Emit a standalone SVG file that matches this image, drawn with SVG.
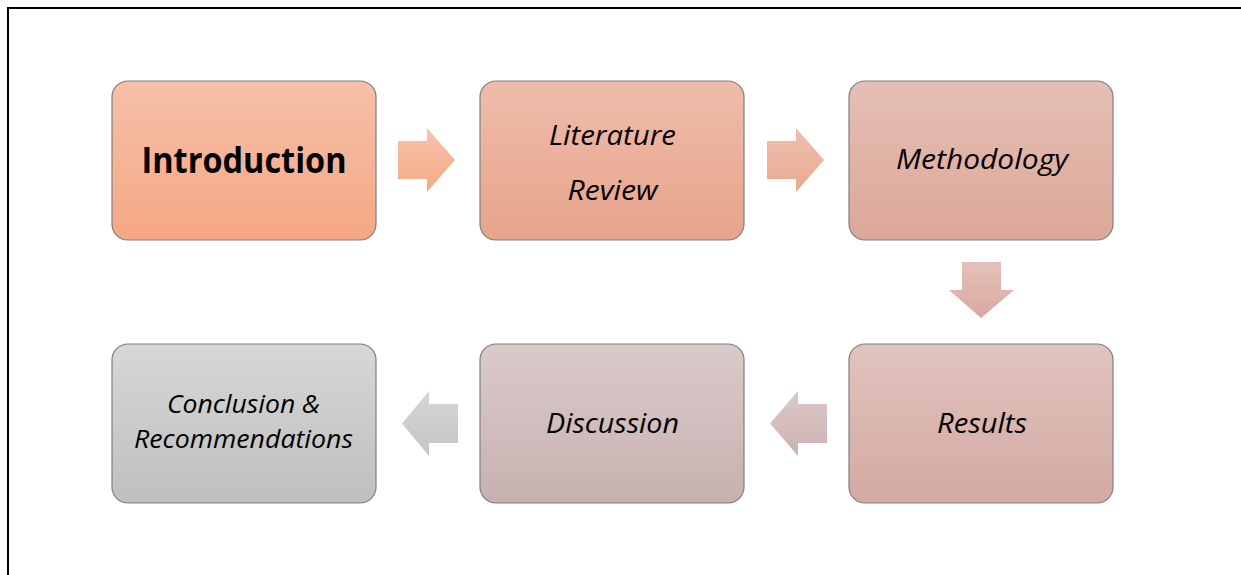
<svg xmlns="http://www.w3.org/2000/svg" width="1241" height="575" viewBox="0 0 1241 575">
<style>
.box{stroke:#7f7f7f;stroke-width:1.2}
.t{font-family:"Open Sans","Liberation Sans",sans-serif;font-style:italic;font-size:28px;fill:#000;text-anchor:middle}
.s{font-size:26px}
.b{font-family:"Open Sans","Liberation Sans",sans-serif;font-weight:bold;font-size:35px;fill:#000;text-anchor:middle}
</style>
<defs>
<linearGradient id="g1" x1="0" y1="0" x2="0" y2="1"><stop offset="0" stop-color="#F6C0A8"/><stop offset="1" stop-color="#F5A784"/></linearGradient>
<linearGradient id="g2" x1="0" y1="0" x2="0" y2="1"><stop offset="0" stop-color="#EEBDAB"/><stop offset="1" stop-color="#E8A38A"/></linearGradient>
<linearGradient id="g3" x1="0" y1="0" x2="0" y2="1"><stop offset="0" stop-color="#E5BFB5"/><stop offset="1" stop-color="#DCA797"/></linearGradient>
<linearGradient id="g4" x1="0" y1="0" x2="0" y2="1"><stop offset="0" stop-color="#E1C3BE"/><stop offset="1" stop-color="#D3A9A2"/></linearGradient>
<linearGradient id="g5" x1="0" y1="0" x2="0" y2="1"><stop offset="0" stop-color="#DACACA"/><stop offset="1" stop-color="#C7B1B0"/></linearGradient>
<linearGradient id="g6" x1="0" y1="0" x2="0" y2="1"><stop offset="0" stop-color="#D7D7D7"/><stop offset="1" stop-color="#BFBFBF"/></linearGradient>
<linearGradient id="a1" x1="0" y1="0" x2="0" y2="1"><stop offset="0" stop-color="#F7C3AC"/><stop offset="1" stop-color="#F5A986"/></linearGradient>
<linearGradient id="a2" x1="0" y1="0" x2="0" y2="1"><stop offset="0" stop-color="#EEC0AE"/><stop offset="1" stop-color="#E9A991"/></linearGradient>
<linearGradient id="a3" x1="0" y1="0" x2="0" y2="1"><stop offset="0" stop-color="#E3C1B9"/><stop offset="1" stop-color="#DAA99F"/></linearGradient>
<linearGradient id="a4" x1="0" y1="0" x2="0" y2="1"><stop offset="0" stop-color="#DCC8C8"/><stop offset="1" stop-color="#CDB3B2"/></linearGradient>
<linearGradient id="a5" x1="0" y1="0" x2="0" y2="1"><stop offset="0" stop-color="#D6D6D6"/><stop offset="1" stop-color="#C4C4C4"/></linearGradient>
</defs>
<rect width="1241" height="575" fill="#fff"/>
<path d="M8 575 V8 H1241" fill="none" stroke="#000" stroke-width="2"/>
<g id="connectors">
<path d="M398 141 H427 V128 L455 160 L427 192 V179 H398 Z" fill="url(#a1)"/>
<path d="M767 141 H796 V128 L824 160 L796 192 V179 H767 Z" fill="url(#a2)"/>
<path d="M962 262 H1001 V290 H1014 L981 318 L949 290 H962 Z" fill="url(#a3)"/>
<path d="M827 404 H798 V391 L770 423.5 L798 456 V443 H827 Z" fill="url(#a4)"/>
<path d="M458 404 H429 V391 L402 423.5 L429 456 V443 H458 Z" fill="url(#a5)"/>
</g>
<g id="introduction">
<rect class="box" x="112" y="81" width="264" height="159" rx="16" fill="url(#g1)"/>
<text class="b" x="244" y="173" textLength="205" lengthAdjust="spacingAndGlyphs">Introduction</text>
</g>
<g id="literature-review">
<rect class="box" x="480" y="81" width="264" height="159" rx="16" fill="url(#g2)"/>
<text class="t" x="612.5" y="145" textLength="127" lengthAdjust="spacingAndGlyphs">Literature</text>
<text class="t" x="612.5" y="200" textLength="90" lengthAdjust="spacingAndGlyphs">Review</text>
</g>
<g id="methodology">
<rect class="box" x="849" y="81" width="264" height="159" rx="16" fill="url(#g3)"/>
<text class="t" x="982" y="169" textLength="172" lengthAdjust="spacingAndGlyphs">Methodology</text>
</g>
<g id="results">
<rect class="box" x="849" y="344" width="264" height="159" rx="16" fill="url(#g4)"/>
<text class="t" x="982" y="433" textLength="90" lengthAdjust="spacingAndGlyphs">Results</text>
</g>
<g id="discussion">
<rect class="box" x="480" y="344" width="264" height="159" rx="16" fill="url(#g5)"/>
<text class="t" x="612.5" y="433" textLength="133" lengthAdjust="spacingAndGlyphs">Discussion</text>
</g>
<g id="conclusion">
<rect class="box" x="112" y="344" width="264" height="159" rx="16" fill="url(#g6)"/>
<text class="t s" x="243.5" y="413" textLength="153" lengthAdjust="spacingAndGlyphs">Conclusion &amp;</text>
<text class="t s" x="243.5" y="448" textLength="219" lengthAdjust="spacingAndGlyphs">Recommendations</text>
</g>
</svg>
